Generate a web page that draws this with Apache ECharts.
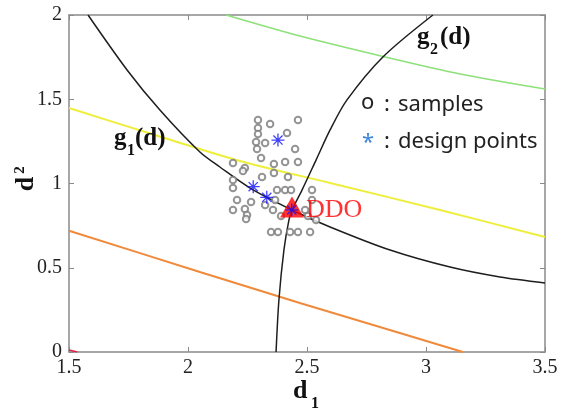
<!DOCTYPE html>
<html>
<head>
<meta charset="utf-8">
<script src="https://cdn.jsdelivr.net/npm/echarts@6/dist/echarts.min.js"></script>
<style>html,body{margin:0;padding:0;background:#fff;}#c{width:567px;height:416px;}</style>
</head>
<body>
<div id="c"></div>
<script>
const xTickLabels = ['1.5','2','2.5','3','3.5'];
const yTickLabels = ['0','0.5','1','1.5','2'];

const g1Curve = [[1.580,2.000],[1.744,1.674],[1.882,1.436],[2.050,1.187],[2.134,1.098],[2.261,0.973],[2.437,0.843],[2.597,0.742],[2.849,0.605],[3.101,0.504],[3.311,0.445],[3.500,0.410]];
const g2Curve = [[2.370,0.000],[2.382,0.309],[2.403,0.605],[2.424,0.783],[2.437,0.843],[2.479,0.961],[2.538,1.139],[2.597,1.318],[2.668,1.496],[2.819,1.751],[3.029,2.000]];
const yellowCurve = [[1.500,1.448],[1.861,1.288],[2.218,1.134],[2.597,1.003],[3.059,0.843],[3.500,0.682]];
const greenCurve = [[2.160,2.000],[2.471,1.875],[2.828,1.751],[3.143,1.650],[3.500,1.561]];
const orangeCurve = [[1.500,0.720],[2.050,0.475],[2.470,0.291],[2.890,0.113],[3.155,0.000]];
const redCurve = [[1.500,0.012],[1.535,0.000]];

const samples = [[2.294,1.377],[2.345,1.353],[2.462,1.377],[2.294,1.329],[2.294,1.294],[2.416,1.300],[2.286,1.246],[2.324,1.240],[2.290,1.205],[2.450,1.205],[2.307,1.151],[2.408,1.128],[2.462,1.128],[2.189,1.122],[2.361,1.116],[2.239,1.092],[2.231,1.074],[2.361,1.062],[2.420,1.039],[2.311,1.039],[2.189,1.021],[2.189,0.973],[2.374,0.961],[2.408,0.961],[2.433,0.961],[2.521,0.961],[2.206,0.902],[2.265,0.890],[2.366,0.902],[2.521,0.902],[2.189,0.843],[2.239,0.849],[2.324,0.872],[2.357,0.843],[2.492,0.843],[2.248,0.813],[2.244,0.789],[2.391,0.807],[2.504,0.807],[2.538,0.783],[2.349,0.712],[2.378,0.712],[2.429,0.712],[2.462,0.712],[2.513,0.712]];
const designPoints = [[2.378,1.258],[2.274,0.981],[2.331,0.918],[2.436,0.843]];
const ddoPoint = [[2.437,0.861]];

const asterisk = 'path://M-1,-10L1,-10L1,10L-1,10Z M-10,-1L10,-1L10,1L-10,1Z M-6.36,-7.78L7.78,6.36L6.36,7.78L-7.78,-6.36Z M-7.78,6.36L6.36,-7.78L7.78,-6.36L-6.36,7.78Z';

const axisCol = '#8a8a8a';
function mkX(pos, showLabel){
  return {type:'value', min:1.5, max:3.5, interval:0.5, position:pos,
    axisLine:{onZero:false, lineStyle:{color:axisCol, width:1.5}},
    axisTick:{inside:true, length:5, lineStyle:{color:axisCol, width:1}},
    splitLine:{show:false},
    axisLabel:{show:showLabel, showMinLabel:true, showMaxLabel:true, margin:6,
      fontFamily:'Liberation Serif', fontSize:20, color:'#222',
      formatter:function(v){ return xTickLabels[Math.round((v-1.5)/0.5)]; }}};
}
function mkY(pos, showLabel){
  return {type:'value', min:0, max:2, interval:0.5, position:pos,
    axisLine:{onZero:false, lineStyle:{color:axisCol, width:1.5}},
    axisTick:{inside:true, length:5, lineStyle:{color:axisCol, width:1}},
    splitLine:{show:false},
    axisLabel:{show:showLabel, showMinLabel:true, showMaxLabel:true, margin:7,
      fontFamily:'Liberation Serif', fontSize:20, color:'#222',
      formatter:function(v){ return yTickLabels[Math.round(v/0.5)]; }}};
}
function line(data, color, width){
  return {type:'line', data:data, showSymbol:false, symbol:'none', smooth:0.3,
    lineStyle:{color:color, width:width}, silent:true, z:2};
}
function txt(x, y, text, font, fill, align, rot){
  return {type:'text', x:x, y:y, rotation:rot||0, z:100,
    style:{text:text, font:font, fill:fill, textAlign:align||'left', align:align||'left',
      textVerticalAlign:'middle', verticalAlign:'middle'}};
}
const serifB = function(s){ return 'bold '+s+'px "Liberation Serif"'; };
const sans = '22px "Noto Sans"';

const chart = echarts.init(document.getElementById('c'), null, {renderer:'canvas'});
chart.setOption({
  animation:false,
  backgroundColor:'#ffffff',
  grid:{left:69, right:22, top:15, bottom:64, containLabel:false},
  xAxis:[mkX('bottom', true), mkX('top', false)],
  yAxis:[mkY('left', true), mkY('right', false)],
  series:[
    line(orangeCurve, '#f08a3a', 2),
    line(yellowCurve, '#eeee3c', 2),
    line(greenCurve, '#8ee07a', 1.5),
    line(redCurve, '#e0204a', 1.5),
    line(g1Curve, '#1e1e1e', 1.5),
    line(g2Curve, '#1e1e1e', 1.5),
    {type:'scatter', data:samples, symbol:'emptyCircle', symbolSize:6.5,
      itemStyle:{color:'#7a7a7a', borderColor:'#7a7a7a', borderWidth:1.2}, z:3},
    {type:'scatter', data:ddoPoint, symbol:'triangle', symbolSize:[24,21],
      itemStyle:{color:'#ff0000'}, z:4,
      label:{show:true, position:'right', distance:2, offset:[0,3], formatter:'DDO',
        fontFamily:'Liberation Serif', fontSize:26, color:'#ff0000'}},
    {type:'scatter', data:designPoints, symbol:asterisk, symbolSize:13,
      itemStyle:{color:'#1010ff'}, z:5}
  ],
  graphic:[
    txt(293, 391, 'd', serifB(26), '#111'),
    txt(311, 404, '1', serifB(16), '#111'),
    txt(26, 184, 'd', serifB(26), '#111', 'center', Math.PI/2),
    txt(20, 170, '2', serifB(15), '#111', 'center', Math.PI/2),
    txt(114, 139, 'g', serifB(25), '#111'),
    txt(127, 151, '1', serifB(16), '#111'),
    txt(135, 139, '(d)', serifB(25), '#111'),
    txt(417, 38, 'g', serifB(25), '#111'),
    txt(430, 50, '2', serifB(16), '#111'),
    txt(440, 38, '(d)', serifB(25), '#111'),
    txt(361, 103, 'o', sans, '#222'),
    txt(387, 105, ':', sans, '#222', 'center'),
    txt(398, 105, 'samples', sans, '#222'),
    txt(362, 143, '*', sans, '#3d85d8'),
    txt(387, 142, ':', sans, '#222', 'center'),
    txt(398, 142, 'design points', sans, '#222')
  ]
});
</script>
</body>
</html>
